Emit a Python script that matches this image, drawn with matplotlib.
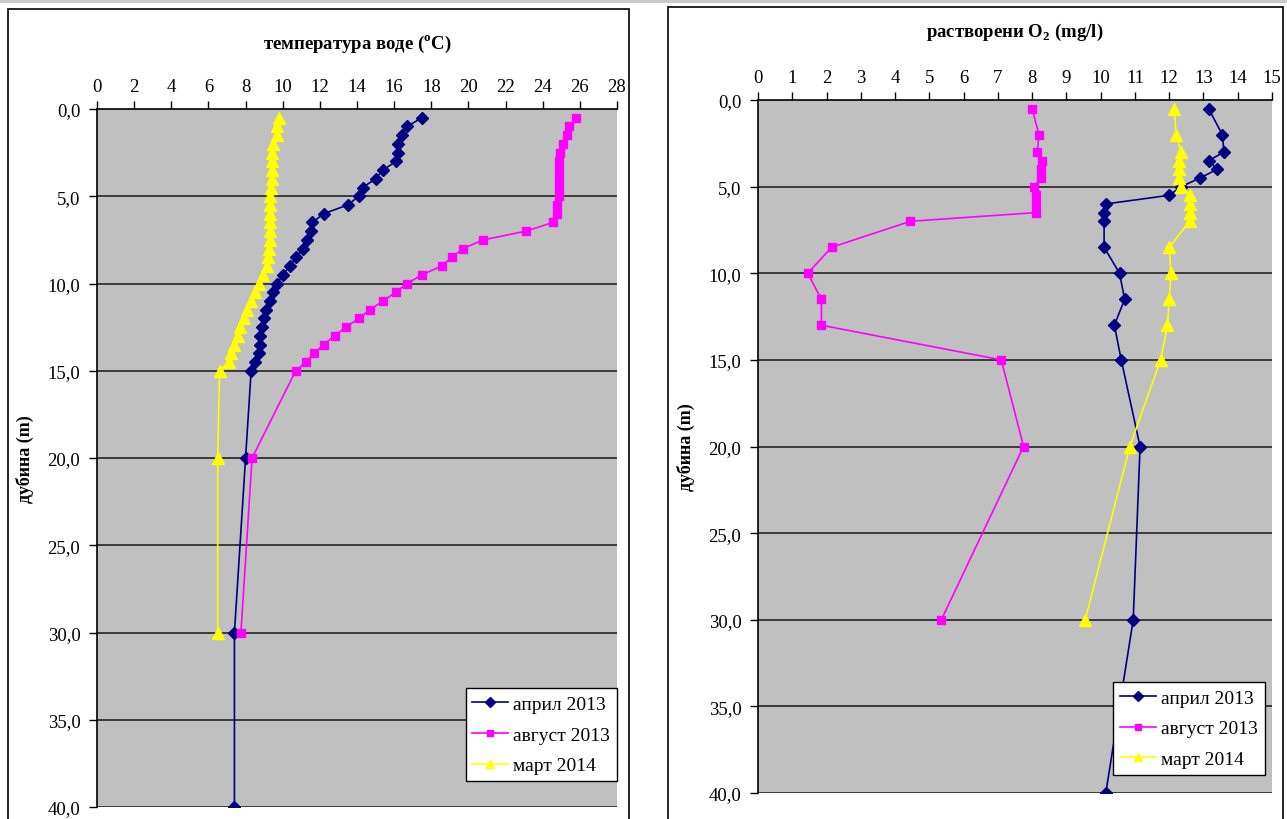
import numpy as np
import matplotlib
matplotlib.use('Agg')
import matplotlib.pyplot as plt
from matplotlib.patches import Rectangle

plt.rcParams['font.family'] = ['Liberation Serif', 'DejaVu Serif']
plt.rcParams['mathtext.fontset'] = 'custom'
plt.rcParams['mathtext.rm'] = 'Liberation Serif:bold'
plt.rcParams['mathtext.bf'] = 'Liberation Serif:bold'

# --- temperature profiles (left) ---
temp_depth = [0.5, 1.0, 1.5, 2.0, 2.5, 3.0, 3.5, 4.0, 4.5, 5.0,
              5.5, 6.0, 6.5, 7.0, 7.5, 8.0, 8.5, 9.0, 9.5, 10.0,
              10.5, 11.0, 11.5, 12.0, 12.5, 13.0, 13.5, 14.0, 14.5, 15.0,
              20.0, 30.0, 40.0]
temp_april = [17.5, 16.7, 16.4, 16.2, 16.2, 16.1, 15.4, 15.0, 14.3, 14.1,
              13.5, 12.2, 11.6, 11.5, 11.3, 11.1, 10.7, 10.4, 10.0, 9.7,
              9.5, 9.3, 9.1, 9.0, 8.9, 8.8, 8.75, 8.7, 8.5, 8.3,
              8.0, 7.4, 7.4]
temp_august = [25.8, 25.4, 25.3, 25.1, 24.95, 24.9, 24.9, 24.9, 24.9, 24.9,
               24.75, 24.75, 24.55, 23.1, 20.8, 19.7, 19.1, 18.55, 17.5, 16.7,
               16.1, 15.4, 14.7, 14.1, 13.4, 12.8, 12.2, 11.7, 11.25, 10.7,
               8.35, 7.75]
temp_march = [9.8, 9.7, 9.7, 9.5, 9.4, 9.4, 9.4, 9.4, 9.35, 9.3,
              9.3, 9.3, 9.3, 9.3, 9.3, 9.25, 9.2, 9.15, 8.95, 8.7,
              8.5, 8.3, 8.1, 7.9, 7.7, 7.6, 7.4, 7.2, 7.1, 6.6,
              6.5, 6.5]

# --- dissolved oxygen profiles (right) ---
o2_depth = [0.5, 2.0, 3.0, 3.5, 4.0, 4.5, 5.0, 5.5, 6.0, 6.5,
            7.0, 8.5, 10.0, 11.5, 13.0, 15.0, 20.0, 30.0, 40.0]
o2_april = [13.15, 13.55, 13.6, 13.15, 13.4, 12.9, 12.35, 12.0, 10.15, 10.1,
            10.1, 10.1, 10.55, 10.7, 10.4, 10.6, 11.15, 10.95, 10.15]
o2_august = [8.0, 8.2, 8.15, 8.3, 8.25, 8.25, 8.05, 8.1, 8.1, 8.1,
             4.45, 2.15, 1.45, 1.85, 1.85, 7.1, 7.75, 5.35]
o2_march = [12.15, 12.2, 12.35, 12.3, 12.3, 12.3, 12.35, 12.6, 12.6, 12.6,
            12.6, 12.0, 12.05, 12.0, 11.95, 11.75, 10.85, 9.55]

labels = ['април 2013', 'август 2013', 'март 2014']
colors = ['#000080', '#FF00FF', '#FFFF00']
markers = ['D', 's', '^']
msizes = [6.3, 6.3, 8]
depth_ticks = [0, 5, 10, 15, 20, 25, 30, 35, 40]

W, H = 1287, 820
fig = plt.figure(figsize=(W / 100, H / 100), dpi=100)
fig.patch.set_facecolor('white')

# top gray strip and the two chart frames (behind the axes)
fig.add_artist(Rectangle((0, 1 - 4 / H), 1, 4 / H, transform=fig.transFigure,
                         facecolor='#c8c8c8', edgecolor='none', zorder=-10))
fig.add_artist(Rectangle((8 / W, -0.02), 621 / W, 1.02 - 10 / H, transform=fig.transFigure,
                         facecolor='white', edgecolor='black', lw=1.2, zorder=-10))
fig.add_artist(Rectangle((668 / W, -0.02), 615 / W, 1.02 - 8 / H, transform=fig.transFigure,
                         facecolor='white', edgecolor='black', lw=1.2, zorder=-10))


def px_axes(x0, y0, x1, y1):
    return fig.add_axes([x0 / W, 1 - y1 / H, (x1 - x0) / W, (y1 - y0) / H])


def style_axes(ax, xmax, xstep, title, title_y):
    ax.set_facecolor('#C0C0C0')
    ax.set_xlim(0, xmax)
    ax.set_ylim(40, 0)
    ax.xaxis.tick_top()
    ax.set_xticks(np.arange(0, xmax + 0.1, xstep))
    ax.set_yticks(depth_ticks)
    ax.set_yticklabels([f'{d:.1f}'.replace('.', ',') for d in depth_ticks])
    ax.tick_params(axis='both', direction='out', length=6, width=1,
                   labelsize=13.5, pad=6)
    ax.tick_params(axis='x', pad=4)
    for d in depth_ticks[1:]:
        ax.axhline(d, color='#303030', lw=1.3, zorder=1)
    ax.spines['right'].set_visible(False)
    ax.spines['top'].set_linewidth(1.2)
    ax.spines['left'].set_linewidth(1.2)
    ax.spines['bottom'].set_visible(False)
    ax.set_ylabel('дубина (m)', fontsize=13, fontweight='bold', labelpad=10)
    ax.set_title(title, fontsize=13.5, fontweight='bold', y=title_y)


def add_legend(ax, anchor):
    leg = ax.legend(loc='lower right', bbox_to_anchor=anchor, fontsize=14,
                    frameon=True, fancybox=False, edgecolor='black',
                    handlelength=1.85, handletextpad=0.25, borderpad=0.35,
                    labelspacing=0.68, borderaxespad=0, markerscale=0.75)
    leg.get_frame().set_linewidth(1)
    leg.get_frame().set_alpha(1)
    return leg


# left chart: temperature
ax1 = px_axes(97, 110, 617, 808)
style_axes(ax1, 28, 2, r'температура воде ($^{\mathrm{o}}$C)', 1.075)
for i, vals in enumerate([temp_april, temp_august, temp_march]):
    ax1.plot(vals, temp_depth[:len(vals)], color=colors[i], marker=markers[i],
             ms=msizes[i], lw=1.2, label=labels[i], zorder=3 + i)
add_legend(ax1, (1.0, 0.037))

# right chart: dissolved oxygen
ax2 = px_axes(758, 101, 1272, 794)
style_axes(ax2, 15, 1, r'растворени O$_{\mathrm{2}}$ (mg/l)', 1.08)
for i, vals in enumerate([o2_april, o2_august, o2_march]):
    ax2.plot(vals, o2_depth[:len(vals)], color=colors[i], marker=markers[i],
             ms=msizes[i], lw=1.2, label=labels[i], zorder=3 + i)
add_legend(ax2, (0.986, 0.026))

fig.savefig('out.png', dpi=100)
